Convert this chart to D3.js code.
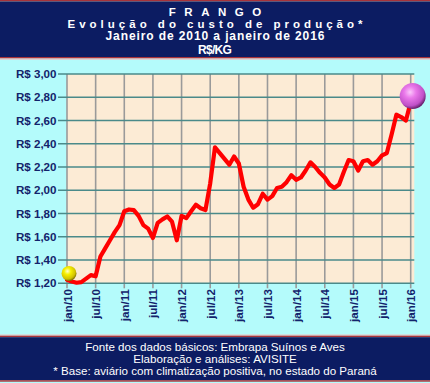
<!DOCTYPE html>
<html><head><meta charset="utf-8">
<script src="https://cdn.jsdelivr.net/npm/d3@7"></script>
<style>
html,body{margin:0;padding:0;background:#b4fbfb;}
svg{display:block;font-family:"Liberation Sans",Arial,sans-serif;}
</style></head>
<body>
<svg id="c" width="430" height="383"></svg>
<script>
// monthly production cost, jan/10 .. jan/16 (R$/kg)
const costValues = [
  1.23,1.215,1.205,1.21,1.24,1.27,1.26,1.43,1.50,1.57,1.64,1.70,
  1.82,1.835,1.83,1.78,1.70,1.67,1.59,1.72,1.75,1.775,1.73,1.57,
  1.78,1.76,1.82,1.875,1.845,1.83,2.06,2.37,2.32,2.27,2.22,2.29,
  2.23,2.03,1.92,1.85,1.88,1.97,1.92,1.95,2.02,2.03,2.07,2.13,
  2.09,2.11,2.17,2.24,2.20,2.15,2.11,2.05,2.02,2.05,2.16,2.26,
  2.25,2.17,2.25,2.26,2.22,2.25,2.30,2.32,2.48,2.65,2.63,2.60,
  2.76
];
const xTickLabels = ["jan/10","jul/10","jan/11","jul/11","jan/12","jul/12","jan/13","jul/13","jan/14","jul/14","jan/15","jul/15","jan/16"];
const xTickMonths = [0,6,12,18,24,30,36,42,48,54,60,66,72];
const yTicks = [1.2,1.4,1.6,1.8,2.0,2.2,2.4,2.6,2.8,3.0];
const markerMonths = [0,72];
const markerValues = [1.285,2.81];
const titleLines = ["FRANGO","Evolução do custo de produção*","Janeiro de 2010 a janeiro de 2016","R$/KG"];
const footerLines = ["Fonte dos dados básicos: Embrapa Suínos e Aves","Elaboração e análises: AVISITE","* Base: aviário com climatização positiva, no estado do Paraná"];

const svg = d3.select("#c");
const W = 430, H = 383;
const navy = "#0c1c62", red = "#a8333a", lab = "#13236b";

// header band
svg.append("rect").attr("x",0).attr("y",0).attr("width",W).attr("height",1.5).attr("fill",red);
svg.append("rect").attr("x",0).attr("y",1.5).attr("width",W).attr("height",55.5).attr("fill",navy);
svg.append("rect").attr("x",0).attr("y",57).attr("width",W).attr("height",1.5).attr("fill",red);
svg.append("rect").attr("x",0).attr("y",58.5).attr("width",W).attr("height",1.2).attr("fill","#e9c4c4");

// footer band
svg.append("rect").attr("x",0).attr("y",334.5).attr("width",W).attr("height",1.2).attr("fill","#e9c4c4");
svg.append("rect").attr("x",0).attr("y",335.7).attr("width",W).attr("height",1.5).attr("fill",red);
svg.append("rect").attr("x",0).attr("y",337.2).attr("width",W).attr("height",43).attr("fill",navy);
svg.append("rect").attr("x",0).attr("y",380.2).attr("width",W).attr("height",1.5).attr("fill",red);

// titles
const tStyle = [
  {y:15.5, size:11.5, ls:8.5, w:"bold"},
  {y:27.5, size:11.5, ls:4, w:"bold"},
  {y:40.3, size:12, ls:0.9, w:"bold"},
  {y:54, size:12, ls:-0.7, w:"bold"}
];
titleLines.forEach((t,i)=>{
  svg.append("text").attr("x",W/2 + tStyle[i].ls/2).attr("y",tStyle[i].y)
    .attr("text-anchor","middle").attr("fill","#ffffff")
    .attr("font-size",tStyle[i].size).attr("font-weight",tStyle[i].w)
    .attr("letter-spacing",tStyle[i].ls).text(t);
});
const fY = [350.5, 363.2, 375.3];
footerLines.forEach((t,i)=>{
  svg.append("text").attr("x",W/2).attr("y",fY[i])
    .attr("text-anchor","middle").attr("fill","#ffffff")
    .attr("font-size",11.6).text(t);
});

// scales
const x = d3.scaleLinear().domain([0,72]).range([67,410.7]);
const y = d3.scaleLinear().domain([1.2,3.0]).range([283.3,74]);
const plotRight = 414.3;

// plot background
const defs = svg.append("defs");
svg.append("rect").attr("x",x(0)).attr("y",y(3.0)).attr("width",plotRight-x(0)).attr("height",y(1.2)-y(3.0))
  .attr("fill","#fcebd5");

// vertical gridlines + ticks
svg.append("g").selectAll("line").data(xTickMonths).join("line")
  .attr("x1",d=>x(d)).attr("x2",d=>x(d))
  .attr("y1",y(3.0)).attr("y2",y(1.2)+5)
  .attr("stroke","#9a9a9a").attr("stroke-width",1.6);

// horizontal gridlines + ticks
svg.append("g").selectAll("line").data(yTicks).join("line")
  .attr("x1",x(0)-9).attr("x2",plotRight)
  .attr("y1",d=>y(d)).attr("y2",d=>y(d))
  .attr("stroke","#4a8a8a").attr("stroke-width",1.6);

// y labels
svg.append("g").selectAll("text").data(yTicks).join("text")
  .attr("x",56.5).attr("y",d=>y(d)+4)
  .attr("text-anchor","end").attr("fill",lab)
  .attr("font-size",11.6).attr("font-weight","bold")
  .text(d=>"R$ "+d.toFixed(2).replace(".",","));

// x labels (rotated)
svg.append("g").selectAll("text").data(xTickMonths).join("text")
  .attr("transform",(d)=>`translate(${x(d)+4.5},289) rotate(-90)`)
  .attr("text-anchor","end").attr("fill",lab)
  .attr("font-size",11.6).attr("font-weight","bold")
  .text((d,i)=>xTickLabels[i]);

// line
const line = d3.line().x((d,i)=>x(i)).y(d=>y(d)).curve(d3.curveLinear);
svg.append("path").datum(costValues).attr("d",line)
  .attr("fill","none").attr("stroke","#ff0000").attr("stroke-width",4.2)
  .attr("stroke-linejoin","round").attr("stroke-linecap","round");

// markers (balls)
const gY = defs.append("radialGradient").attr("id","gy").attr("cx","40%").attr("cy","35%").attr("r","65%");
gY.append("stop").attr("offset","0%").attr("stop-color","#ffffd0");
gY.append("stop").attr("offset","35%").attr("stop-color","#f6f000");
gY.append("stop").attr("offset","80%").attr("stop-color","#d0c000");
gY.append("stop").attr("offset","100%").attr("stop-color","#807400");
const gP = defs.append("radialGradient").attr("id","gp").attr("cx","40%").attr("cy","35%").attr("r","65%");
gP.append("stop").attr("offset","0%").attr("stop-color","#fbc8fb");
gP.append("stop").attr("offset","35%").attr("stop-color","#ea78ea");
gP.append("stop").attr("offset","80%").attr("stop-color","#c050c8");
gP.append("stop").attr("offset","100%").attr("stop-color","#6a2270");
const radii = [7.5,13];
const grads = ["url(#gy)","url(#gp)"];
svg.append("g").selectAll("circle").data(markerMonths).join("circle")
  .attr("cx",(d)=>x(d)+2).attr("cy",(d,i)=>y(markerValues[i]))
  .attr("r",(d,i)=>radii[i]).attr("fill",(d,i)=>grads[i]);
</script>
</body></html>
